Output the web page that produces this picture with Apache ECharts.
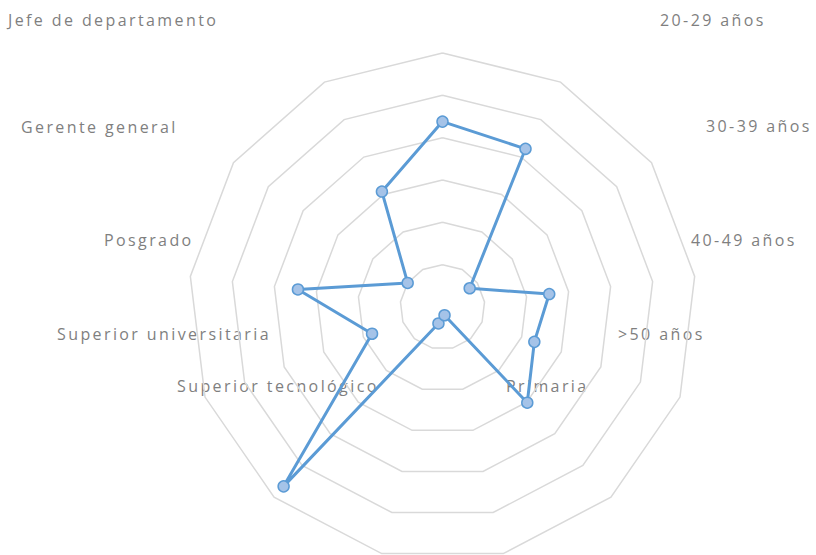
<!DOCTYPE html>
<html>
<head>
<meta charset="utf-8">
<script src="https://cdn.jsdelivr.net/npm/echarts@6/dist/echarts.min.js"></script>
<style>
  html, body { margin: 0; padding: 0; background: #fff; }
  #main { width: 816px; height: 555px; }
  #main text { letter-spacing: 2.4px; }
</style>
</head>
<body>
<div id="main"></div>
<script>
// categories clockwise from the top axis (three labels fall outside the picture)
var categories = ['', '20-29 años', '30-39 años', '40-49 años', '>50 años', 'Primaria', '', '',
  'Superior tecnológico', 'Superior universitaria', 'Posgrado', 'Gerente general', 'Jefe de departamento'];
var values = [21.9, 21.1, 3.9, 12.7, 11.6, 15.1, 1.0, 2.0, 28.3, 8.9, 17.2, 5.0, 15.4];
var maxValue = 30;

// where each label sits in the picture (left edge, middle)
var labelPos = [null, [660, 20], [706, 126], [691, 240], [618, 334], [506, 386], null, null,
  [177, 386], [57, 334], [104, 240], [21, 127], [8, 20]];

// echarts lays indicators out counter-clockwise, so flip the order after the first one
function ccw(arr) { return [arr[0]].concat(arr.slice(1).reverse()); }

var indicators = ccw(categories).map(function (c) { return { name: c, max: maxValue }; });

var labels = [];
categories.forEach(function (c, i) {
  if (!labelPos[i]) return;
  labels.push({
    type: 'text',
    x: labelPos[i][0],
    y: labelPos[i][1],
    style: {
      text: c,
      font: '16px "Open Sans"',
      fill: '#7f7f7f',
      verticalAlign: 'middle',
      align: 'left'
    }
  });
});

var myChart = echarts.init(document.getElementById('main'), null, { renderer: 'svg' });
var option = {
  animation: false,
  radar: {
    center: [442.5, 307],
    radius: 254,
    startAngle: 90,
    splitNumber: 6,
    shape: 'polygon',
    indicator: indicators,
    axisName: { show: false },
    axisLine: { show: false },
    axisTick: { show: false },
    axisLabel: { show: false },
    splitArea: { show: false },
    splitLine: { lineStyle: { color: '#d9d9d9', width: 1.5 } }
  },
  graphic: labels,
  series: [{
    type: 'radar',
    symbol: 'circle',
    symbolSize: 11,
    lineStyle: { color: '#5b9bd5', width: 3 },
    itemStyle: { color: '#a5c3e8', borderColor: '#5b9bd5', borderWidth: 1.5 },
    data: [{ value: ccw(values) }]
  }]
};
myChart.setOption(option);
</script>
</body>
</html>
